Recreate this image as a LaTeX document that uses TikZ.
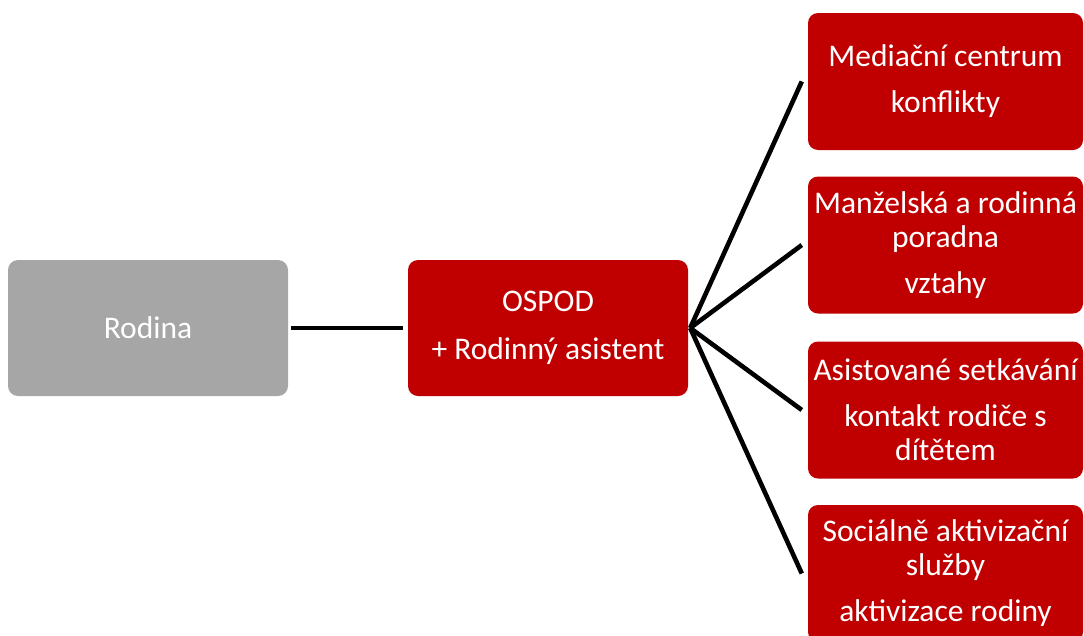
\documentclass[tikz,border=0pt]{standalone}
\usepackage{fontspec}
\setmainfont{Carlito}
\usetikzlibrary{calc}
\definecolor{boxred}{HTML}{C00000}
\definecolor{boxgray}{HTML}{A6A6A6}
\begin{document}
\begin{tikzpicture}[x=1pt,y=-1pt,
  basebox/.style={rounded corners=10pt, text=white, align=center, inner sep=0pt,
    font=\fontsize{31.5}{34}\selectfont},
  graybox/.style={basebox, fill=boxgray, minimum width=280pt, minimum height=136pt},
  redbox/.style={basebox, fill=boxred, minimum width=280pt, minimum height=136pt},
  sidebox/.style={basebox, fill=boxred, minimum width=275pt, minimum height=137pt},
  conn/.style={draw=black, line width=4.6pt}]
\useasboundingbox (0,0) rectangle (1084,635);
\clip (0,0) rectangle (1084,635);
\node[graybox] (rodina) at (148,328) {Rodina};
\node[redbox] (ospod) at (548,328) {OSPOD\\[14pt]+ Rodinný asistent};
\node[sidebox] (m1) at (945.5,81.5) {Mediační centrum\\[12pt]konflikty};
\node[sidebox] (m2) at (945.5,245) {Manželská a rodinná\\poradna\\[12pt]vztahy};
\node[sidebox] (m3) at (945.5,410) {Asistované setkávání\\[12pt]kontakt rodiče s\\dítětem};
\node[sidebox] (m4) at (945.5,573.5) {Sociálně aktivizační\\služby\\[12pt]aktivizace rodiny};
\coordinate (hub) at ($(ospod.east)+(2,0)$);
\coordinate (e1) at ($(m1.west)+(-6,0)$);
\coordinate (e2) at ($(m2.west)+(-6,0)$);
\coordinate (e3) at ($(m3.west)+(-6,0)$);
\coordinate (e4) at ($(m4.west)+(-6,0)$);
\draw[conn, shorten <=3pt, shorten >=5pt] (rodina) -- (ospod);
\draw[conn] (hub) -- (e1);
\draw[conn] (hub) -- (e2);
\draw[conn] (hub) -- (e3);
\draw[conn] (hub) -- (e4);
\end{tikzpicture}
\end{document}
